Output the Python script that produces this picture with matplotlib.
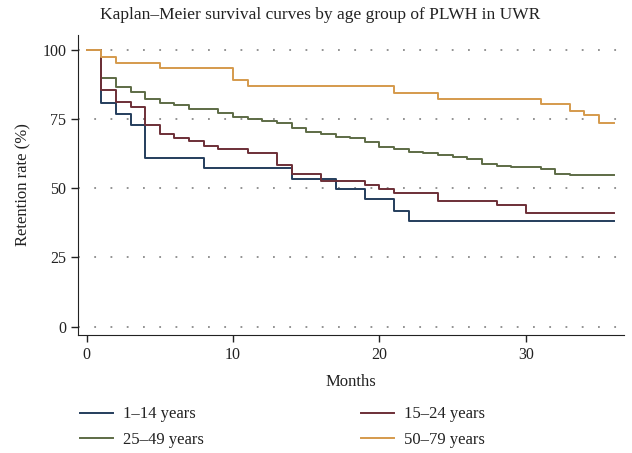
import numpy as np
import matplotlib
matplotlib.use("Agg")
import matplotlib.pyplot as plt

plt.rcParams['font.family'] = ['Liberation Serif', 'DejaVu Serif']

# Kaplan-Meier step data (months, retention %)
t_1_14 = [0, 1, 2, 3, 4, 8, 14, 17, 19, 21, 22, 36]
s_1_14 = [100, 80.7, 76.8, 72.9, 61.0, 57.4, 53.4, 49.7, 46.0, 41.8, 38.0, 38.0]

t_15_24 = [0, 1, 2, 3, 4, 5, 6, 7, 8, 9, 11, 13, 14, 16, 19, 20, 21, 24, 28, 30, 36]
s_15_24 = [100, 85.4, 81.1, 79.4, 72.7, 69.7, 68.3, 66.9, 65.1, 64.0, 62.7, 58.4,
           55.3, 52.7, 51.3, 49.9, 48.4, 45.4, 44.0, 41.2, 41.2]

t_25_49 = [0, 1, 2, 3, 4, 5, 6, 7, 9, 10, 11, 12, 13, 14, 15, 16, 17, 18, 19, 20,
           21, 22, 23, 24, 25, 26, 27, 28, 29, 31, 32, 33, 36]
s_25_49 = [100, 89.8, 86.7, 84.7, 82.2, 80.9, 79.9, 78.5, 77.1, 75.7, 74.9, 74.4,
           73.5, 71.9, 70.3, 69.5, 68.6, 68.1, 66.7, 65.0, 64.2, 63.2, 62.6, 61.9,
           61.4, 60.6, 58.7, 58.1, 57.5, 57.0, 55.3, 54.8, 54.8]

t_50_79 = [0, 1, 2, 5, 10, 11, 21, 24, 31, 33, 34, 35, 36]
s_50_79 = [100, 97.4, 95.3, 93.3, 89.2, 87.1, 84.5, 82.1, 80.3, 77.9, 76.4, 73.6, 73.6]

labels = ['1\u201314 years', '25\u201349 years', '15\u201324 years', '50\u201379 years']
colors = ['#243d5c', '#5d6b45', '#6d2f37', '#d59a4c']
series = [(t_1_14, s_1_14), (t_25_49, s_25_49), (t_15_24, s_15_24), (t_50_79, s_50_79)]

fig = plt.figure(figsize=(6.32, 4.53), dpi=100)
ax = fig.add_axes([0.1239, 0.2605, 0.8634, 0.662])

for yv in [0, 25, 50, 75, 100]:
    ax.axhline(yv, color='#8a8a8a', lw=1.3, linestyle=(0, (1, 8)), zorder=0)

handles = []
for (t, s), c, lab in zip(series, colors, labels):
    h, = ax.step(t, s, where='post', color=c, lw=1.4, label=lab)
    handles.append(h)

ax.set_xlim(-0.57, 36.7)
ax.set_ylim(-3, 105.3)
ax.set_xticks([0, 10, 20, 30])
ax.set_yticks([0, 25, 50, 75, 100])
ax.tick_params(labelsize=11.5, length=5, width=1, color='#222222', labelcolor='#222222')
for sp in ['top', 'right']:
    ax.spines[sp].set_visible(False)
for sp in ['left', 'bottom']:
    ax.spines[sp].set_color('#222222')

ax.set_xlabel('Months', fontsize=12, color='#222222', labelpad=8)
ax.set_ylabel('Retention rate (%)', fontsize=12, color='#222222', labelpad=8)
fig.text(0.507, 0.967, 'Kaplan\u2013Meier survival curves by age group of PLWH in UWR',
         fontsize=12.5, color='#222222', ha='center', va='center')

fig.legend(handles=handles, labels=labels, ncol=2, loc='upper left',
           bbox_to_anchor=(0.103, 0.136), frameon=False, fontsize=12,
           handlelength=2.0, handletextpad=0.6, columnspacing=9.4,
           labelspacing=0.57, labelcolor='#222222')

fig.savefig('out.png', dpi=100)
